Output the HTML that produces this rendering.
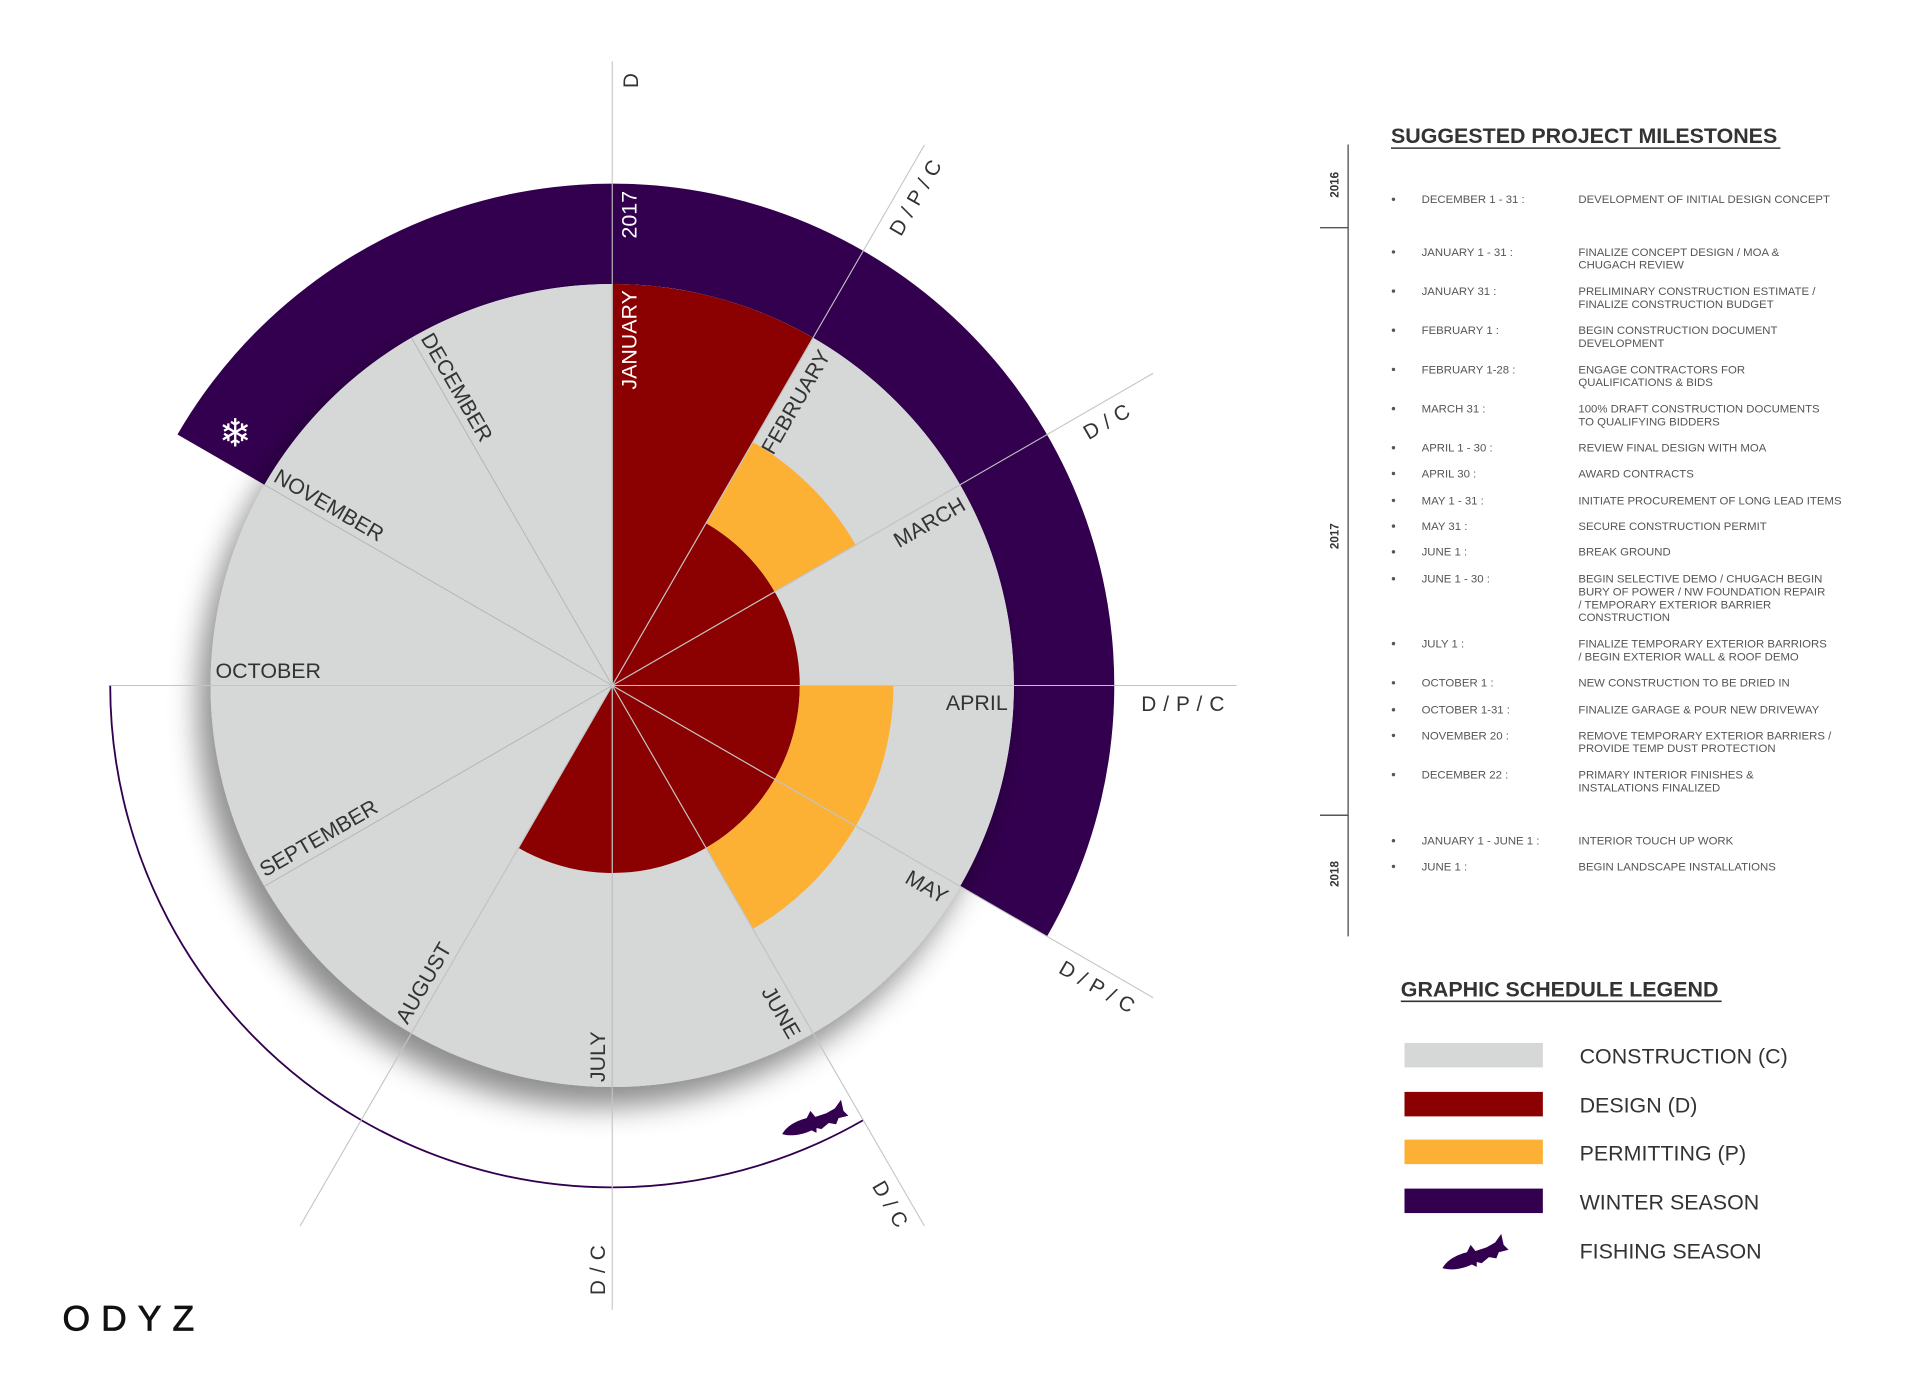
<!DOCTYPE html>
<html><head><meta charset="utf-8">
<style>
html,body{margin:0;padding:0;background:#fff;}
svg{display:block;}
text{font-family:"Liberation Sans",sans-serif;}
</style></head>
<body>
<svg id="chart" width="1920" height="1382" viewBox="0 0 1568 1129" preserveAspectRatio="none" xmlns="http://www.w3.org/2000/svg">
<defs>
<filter id="shadow" x="-30%" y="-30%" width="160%" height="160%">
<feDropShadow dx="-10" dy="16" stdDeviation="12" flood-color="#000" flood-opacity="0.45"/>
</filter>
</defs>
<g id="wheel"></g>

<g>
<text x="1136" y="117" font-size="17.5" font-weight="bold" fill="#333">SUGGESTED PROJECT MILESTONES</text>
<line x1="1136" y1="121" x2="1454" y2="121" stroke="#333" stroke-width="1.3"/>
<line x1="1101" y1="118" x2="1101" y2="765" stroke="#777" stroke-width="1.4"/>
<line x1="1078" y1="186" x2="1101" y2="186" stroke="#555" stroke-width="1.2"/>
<line x1="1078" y1="666" x2="1101" y2="666" stroke="#555" stroke-width="1.2"/>
<text transform="translate(1093,151) rotate(-90)" text-anchor="middle" font-size="9.5" font-weight="bold" fill="#333">2016</text>
<text transform="translate(1093,438) rotate(-90)" text-anchor="middle" font-size="9.5" font-weight="bold" fill="#333">2017</text>
<text transform="translate(1093,714) rotate(-90)" text-anchor="middle" font-size="9.5" font-weight="bold" fill="#333">2018</text>
<g id="items" font-size="9.3" fill="#555"></g>
</g>

<g>
<text x="1144" y="814" font-size="17.5" font-weight="bold" fill="#333">GRAPHIC SCHEDULE LEGEND</text>
<line x1="1144" y1="818" x2="1406" y2="818" stroke="#333" stroke-width="1.3"/>
<rect x="1147" y="852" width="113" height="20" fill="#d5d8d7"/>
<rect x="1147" y="892" width="113" height="20" fill="#8b0000"/>
<rect x="1147" y="931" width="113" height="20" fill="#fcb034"/>
<rect x="1147" y="971" width="113" height="20" fill="#33004f"/>
<g transform="translate(1176,1005)"><path d="M2,31 C6,24 14,20 22,18 L25,12 L29,17 L38,14 L45,10 L50,3 L52,12 L56,16 L48,18 L46,23 L40,22 L34,27 L30,26 L30,30 L26,28 C18,32 8,33 2,31 Z" fill="#33004f"/></g>
<text x="1290" y="869" font-size="17.5" fill="#333">CONSTRUCTION (C)</text>
<text x="1290" y="909" font-size="17.5" fill="#333">DESIGN (D)</text>
<text x="1290" y="948" font-size="17.5" fill="#333">PERMITTING (P)</text>
<text x="1290" y="988" font-size="17.5" fill="#333">WINTER SEASON</text>
<text x="1290" y="1028" font-size="17.5" fill="#333">FISHING SEASON</text>
</g>

<text x="51" y="1087" font-size="29" letter-spacing="9" fill="#111" stroke="#111" stroke-width="0.6">ODYZ</text>
</svg>

<script>
// ---- chart data ----
const months = ['JANUARY','FEBRUARY','MARCH','APRIL','MAY','JUNE','JULY','AUGUST','SEPTEMBER','OCTOBER','NOVEMBER','DECEMBER'];
const designStart = [0, 1];
const designEnd = [1, 7];
const designOuter = [1.0, 0.467];
const permitStart = [1, 3];
const permitEnd = [2, 5];
const permitInner = 0.467;
const permitOuter = 0.70;
const winterStart = -2;
const winterEnd = 4;
const fishStart = 5;
const fishEnd = 9;
const phaseLineMonths = [0, 1, 2, 3, 4, 5, 6, 7];
const phaseLineLabels = ['D', 'D / P / C', 'D / C', 'D / P / C', 'D / P / C', 'D / C', 'D / C', ''];
const yearLabel = '2017';

const NS = 'http://www.w3.org/2000/svg';
const cx = 500, cy = 560, R = 328, RW = 410, RL = 510;
const labelR = [488, 435, 437, 432, 432, 460, 498, 0];
const ang = m => m * 30;
function pt(r, deg) { const a = deg * Math.PI / 180; return [cx + r * Math.sin(a), cy - r * Math.cos(a)]; }
function sector(r0, r1, a0, a1) {
  const large = (a1 - a0) > 180 ? 1 : 0;
  const p1 = pt(r1, a0), p2 = pt(r1, a1);
  if (r0 <= 0) return `M${cx},${cy} L${p1} A${r1},${r1} 0 ${large} 1 ${p2} Z`;
  const p3 = pt(r0, a1), p4 = pt(r0, a0);
  return `M${p1} A${r1},${r1} 0 ${large} 1 ${p2} L${p3} A${r0},${r0} 0 ${large} 0 ${p4} Z`;
}
const g = document.getElementById('wheel');
function mk(tag, attrs) { const e = document.createElementNS(NS, tag); for (const k in attrs) e.setAttribute(k, attrs[k]); g.appendChild(e); return e; }

const wb = mk('path', { d: sector(R, RW, ang(winterStart), ang(winterEnd)), fill: '#33004f' });



const disc = mk('circle', { cx: cx, cy: cy, r: R, fill: '#d5d8d7', filter: 'url(#shadow)' });



for (let i = 0; i < designStart.length; i++) {
  const p = mk('path', { d: sector(0, R * designOuter[i], ang(designStart[i]), ang(designEnd[i])), fill: '#8b0000' });
  
  
}
for (let i = 0; i < permitStart.length; i++) {
  const p = mk('path', { d: sector(R * permitInner, R * permitOuter, ang(permitStart[i]), ang(permitEnd[i])), fill: '#fcb034' });
  
  
}

{
  const a0 = ang(fishStart), a1 = ang(fishEnd);
  const p1 = pt(RW, a0), p2 = pt(RW, a1);
  const f = mk('path', { d: `M${p1} A${RW},${RW} 0 0 1 ${p2}`, fill: 'none', stroke: '#33004f', 'stroke-width': 1.5 });
  
  
  const fp = pt(RW - 20, a0 + 5);
  const fish = mk('path', { d: 'M2,31 C6,24 14,20 22,18 L25,12 L29,17 L38,14 L45,10 L50,3 L52,12 L56,16 L48,18 L46,23 L40,22 L34,27 L30,26 L30,30 L26,28 C18,32 8,33 2,31 Z', fill: '#33004f', transform: `translate(${fp[0] - 28},${fp[1] - 18})` });
  
  
}

for (let m = 0; m < 12; m++) {
  const p = pt(R, ang(m));
  const l = mk('line', { x1: cx, y1: cy, x2: p[0], y2: p[1], stroke: '#b5b5b5', 'stroke-width': 0.8 });
  
  
}
for (let i = 0; i < phaseLineMonths.length; i++) {
  const a = ang(phaseLineMonths[i]);
  const p = pt(RL, a);
  const l = mk('line', { x1: p[0], y1: p[1], x2: cx, y2: cy, stroke: '#c4c4c4', 'stroke-width': 0.9 });
  
  
}
{
  const l = mk('line', { x1: cx - RW, y1: cy, x2: cx, y2: cy, stroke: '#c4c4c4', 'stroke-width': 0.9 });
  
  
}

for (let i = 0; i < phaseLineMonths.length; i++) {
  if (!phaseLineLabels[i]) continue;
  const a = ang(phaseLineMonths[i]);
  let rot = ((a - 90) % 180 + 180) % 180; if (rot >= 90) rot -= 180;
  const first = a < 180;
  const p = pt(labelR[i], a);
  const t = mk('text', { transform: `translate(${p[0]},${p[1]}) rotate(${rot})`, 'font-size': 17, fill: '#333', 'text-anchor': first ? 'start' : 'start', x: 0, y: first ? 21 : -6, 'letter-spacing': 0.5 });
  t.textContent = phaseLineLabels[i];
  
  
}

for (let m = 0; m < 12; m++) {
  const a = ang(m);
  let rot = ((a - 90) % 180 + 180) % 180; if (rot >= 90) rot -= 180;
  const first = a < 180;
  const p = pt(first ? 323 : 324, a);
  const t = mk('text', { transform: `translate(${p[0]},${p[1]}) rotate(${rot})`, 'font-size': 17.5, fill: m === 0 ? '#fff' : '#333', 'text-anchor': first ? 'end' : 'start', x: 0, y: first ? 20 : -6 });
  t.textContent = months[m];
  
  
}
{
  const p = pt(RW - 6, 0);
  const t = mk('text', { transform: `translate(${p[0]},${p[1]}) rotate(-90)`, 'font-size': 17.5, fill: '#fff', 'text-anchor': 'end', y: 20 });
  t.textContent = yearLabel;
  
  
}
{
  const p = pt(370, 303.7);
  const t = mk('text', { x: p[0], y: p[1] + 10, 'font-size': 32, fill: '#fff', 'text-anchor': 'middle' });
  t.textContent = '❄';
  
  
}

const dates = ['DECEMBER 1 - 31 :','JANUARY 1 - 31 :','JANUARY 31 :','FEBRUARY 1 :','FEBRUARY 1-28 :','MARCH 31 :','APRIL 1 - 30 :','APRIL 30 :','MAY 1 - 31 :','MAY 31 :','JUNE 1 :','JUNE 1 - 30 :','JULY 1 :','OCTOBER 1 :','OCTOBER 1-31 :','NOVEMBER 20 :','DECEMBER 22 :','JANUARY 1 - JUNE 1 :','JUNE 1 :'];
const descs = [['DEVELOPMENT OF INITIAL DESIGN CONCEPT'],['FINALIZE CONCEPT DESIGN / MOA &','CHUGACH REVIEW'],['PRELIMINARY CONSTRUCTION ESTIMATE /','FINALIZE CONSTRUCTION BUDGET'],['BEGIN CONSTRUCTION DOCUMENT','DEVELOPMENT'],['ENGAGE CONTRACTORS FOR','QUALIFICATIONS & BIDS'],['100% DRAFT CONSTRUCTION DOCUMENTS','TO QUALIFYING BIDDERS'],['REVIEW FINAL DESIGN WITH MOA'],['AWARD CONTRACTS'],['INITIATE PROCUREMENT OF LONG LEAD ITEMS'],['SECURE CONSTRUCTION PERMIT'],['BREAK GROUND'],['BEGIN SELECTIVE DEMO / CHUGACH BEGIN','BURY OF POWER / NW FOUNDATION REPAIR','/ TEMPORARY EXTERIOR BARRIER','CONSTRUCTION'],['FINALIZE TEMPORARY EXTERIOR BARRIORS','/ BEGIN EXTERIOR WALL & ROOF DEMO'],['NEW CONSTRUCTION TO BE DRIED IN'],['FINALIZE GARAGE & POUR NEW DRIVEWAY'],['REMOVE TEMPORARY EXTERIOR BARRIERS /','PROVIDE TEMP DUST PROTECTION'],['PRIMARY INTERIOR FINISHES &','INSTALATIONS FINALIZED'],['INTERIOR TOUCH UP WORK'],['BEGIN LANDSCAPE INSTALLATIONS']];
const rowY = [163,206,238,270,302,334,366,387,409,430,451,473,526,558,580,601,633,687,708];
const items = document.getElementById('items');
for (let i = 0; i < dates.length; i++) {
  const grp = document.createElementNS(NS, 'g');
  
  
  const y = rowY[i] + 3;
  const b = document.createElementNS(NS, 'circle');
  b.setAttribute('cx', 1138); b.setAttribute('cy', y - 3.2); b.setAttribute('r', 1.4); b.setAttribute('fill', '#555');
  grp.appendChild(b);
  const d = document.createElementNS(NS, 'text');
  d.setAttribute('x', 1161); d.setAttribute('y', y); d.textContent = dates[i];
  grp.appendChild(d);
  descs[i].forEach((s, k) => {
    const t = document.createElementNS(NS, 'text');
    t.setAttribute('x', 1289); t.setAttribute('y', y + k * 10.5); t.textContent = s;
    grp.appendChild(t);
  });
  items.appendChild(grp);
}
</script>
</body></html>
